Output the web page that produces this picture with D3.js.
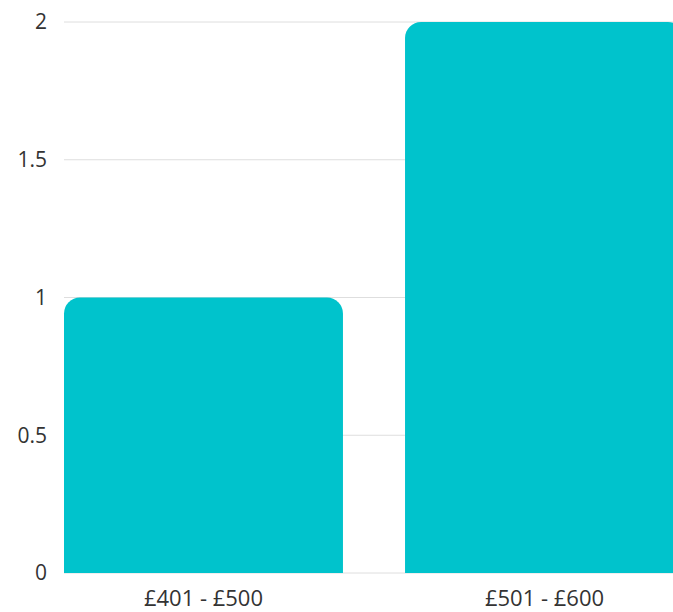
<!DOCTYPE html>
<html>
<head>
<meta charset="utf-8">
<script src="https://cdn.jsdelivr.net/npm/d3@7"></script>
<style>
  body { margin: 0; background: #fff; }
  text { font-family: "Open Sans", sans-serif; fill: #333; }
</style>
</head>
<body>
<div id="chart"></div>
<script>
const categories = ["£401 - £500", "£501 - £600"];
const counts = [1, 2];
const yTicks = [0, 0.5, 1, 1.5, 2];

const width = 673, height = 612;
const margin = { top: 22, right: -11, bottom: 39, left: 64 };

const svg = d3.select("#chart").append("svg")
    .attr("width", width)
    .attr("height", height);

const x = d3.scaleBand()
    .domain(categories)
    .range([margin.left, width - margin.right])
    .paddingInner(0.182)
    .paddingOuter(0);

const y = d3.scaleLinear()
    .domain([0, 2])
    .range([height - margin.bottom, margin.top]);

// grid lines
svg.append("g").selectAll("line")
    .data(yTicks)
    .join("line")
    .attr("x1", margin.left)
    .attr("x2", width)
    .attr("y1", d => y(d))
    .attr("y2", d => y(d))
    .attr("stroke", "#dedede")
    .attr("stroke-width", 1);

// bars with rounded top corners
const r = 16;
function barPath(x0, w, yTop, yBot) {
    return `M${x0},${yBot}V${yTop + r}A${r},${r} 0 0 1 ${x0 + r},${yTop}` +
        `H${x0 + w - r}A${r},${r} 0 0 1 ${x0 + w},${yTop + r}V${yBot}Z`;
}

svg.append("g").selectAll("path")
    .data(categories.map((c, i) => ({ c, v: counts[i] })))
    .join("path")
    .attr("d", d => barPath(x(d.c), x.bandwidth(), y(d.v), y(0)))
    .attr("fill", "#00c3cc");

// y axis labels
svg.append("g").selectAll("text")
    .data(yTicks)
    .join("text")
    .attr("x", 47)
    .attr("y", d => y(d))
    .attr("dy", "0.35em")
    .attr("text-anchor", "end")
    .attr("font-size", 21)
    .text(d => d);

// x axis labels
svg.append("g").selectAll("text")
    .data(categories)
    .join("text")
    .attr("x", d => x(d) + x.bandwidth() / 2)
    .attr("y", 598)
    .attr("dy", "0.35em")
    .attr("text-anchor", "middle")
    .attr("font-size", 22)
    .text(d => d);
</script>
</body>
</html>
